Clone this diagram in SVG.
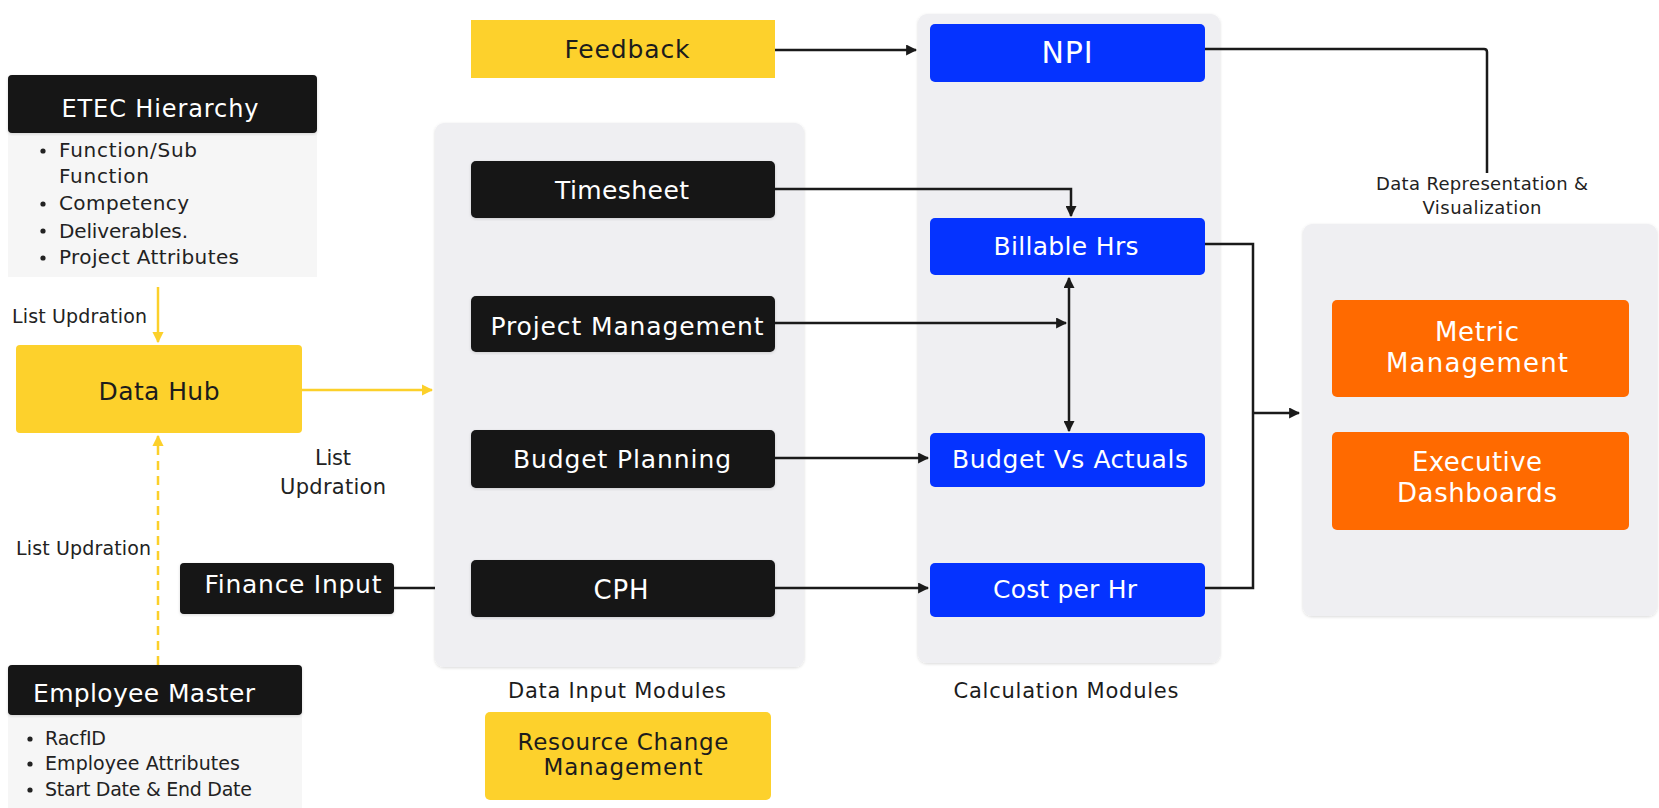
<svg xmlns="http://www.w3.org/2000/svg" width="1659" height="808" viewBox="0 0 1659 808">
  <style>
    text { font-family: "DejaVu Sans", "Liberation Sans", sans-serif; }
    .container { fill: #efeff2; }
    .dark { fill: #141414; }
    .blue { fill: #0533ff; }
    .yellow { fill: #fdd12c; }
    .orange { fill: #ff6a00; }
    .sheet { fill: #f6f6f6; }
    .w { fill: #ffffff; text-anchor: middle; }
    .k { fill: #1c1c1c; text-anchor: middle; }
    .item { fill: #222222; }
    .note { fill: #222222; }
    .line { fill: none; stroke: #1a1a1a; stroke-width: 2.5; }
    .yline { fill: none; stroke: #fcd02a; stroke-width: 2.5; }
  </style>
  <defs>
    <marker id="arrow" viewBox="0 0 10 10" refX="9" refY="5" markerWidth="4.4" markerHeight="4.4" orient="auto-start-reverse">
      <path d="M0,0 L10,5 L0,10 z" fill="#1a1a1a"/>
    </marker>
    <marker id="yarrow" viewBox="0 0 10 10" refX="9" refY="5" markerWidth="4.5" markerHeight="4.5" orient="auto-start-reverse">
      <path d="M0,0 L10,5 L0,10 z" fill="#fcd02a"/>
    </marker>
    <filter id="soft" x="-5%" y="-5%" width="110%" height="110%">
      <feDropShadow dx="0" dy="1" stdDeviation="1.5" flood-color="#000" flood-opacity="0.15"/>
    </filter>
  </defs>

  <!-- module panels -->
  <g id="panel-data-input">
    <rect class="container" x="435" y="123" width="369" height="544" rx="9" filter="url(#soft)"/>
    <text class="k" x="617" y="698" font-size="21" textLength="218">Data Input Modules</text>
  </g>
  <g id="panel-calculation">
    <rect class="container" x="918" y="14" width="302" height="649" rx="9" filter="url(#soft)"/>
    <text class="k" x="1066" y="698" font-size="21" textLength="225">Calculation Modules</text>
  </g>
  <g id="panel-visualization">
    <rect class="container" x="1303" y="224" width="354" height="392" rx="9" filter="url(#soft)"/>
  </g>

  <!-- connectors -->
  <g id="connectors">
    <path class="yline" d="M158,287 V342" marker-end="url(#yarrow)"/>
    <path class="yline" d="M302,390 H432" marker-end="url(#yarrow)"/>
    <path class="yline" d="M158,665 V436" stroke-dasharray="9,6" marker-end="url(#yarrow)"/>
    <path class="line" d="M394,588 H435"/>
    <path class="line" d="M775,50 H916" marker-end="url(#arrow)"/>
    <path class="line" d="M775,189 H1071 V216" marker-end="url(#arrow)"/>
    <path class="line" d="M775,323 H1066" marker-end="url(#arrow)"/>
    <path class="line" d="M1069,278 V431" marker-start="url(#arrow)" marker-end="url(#arrow)"/>
    <path class="line" d="M775,458 H928" marker-end="url(#arrow)"/>
    <path class="line" d="M775,588 H928" marker-end="url(#arrow)"/>
    <path class="line" d="M1205,49 H1484 Q1487,49 1487,52 V173"/>
    <path class="line" d="M1205,244 H1253 V588 H1205"/>
    <path class="line" d="M1253,413 H1299" marker-end="url(#arrow)"/>
  </g>

  <!-- free labels -->
  <g id="labels">
    <text class="note" x="12" y="323" font-size="19" textLength="135">List Updration</text>
    <text class="note" x="16" y="555" font-size="19" textLength="135">List Updration</text>
    <text class="note" x="333" y="465" font-size="21" text-anchor="middle" textLength="36">List</text>
    <text class="note" x="333" y="494" font-size="21" text-anchor="middle" textLength="106">Updration</text>
    <text class="note" x="1482" y="190" font-size="18" text-anchor="middle" textLength="212">Data Representation &amp;</text>
    <text class="note" x="1482" y="214" font-size="18" text-anchor="middle" textLength="119">Visualization</text>
  </g>

  <!-- source nodes -->
  <g id="etec-hierarchy">
    <rect class="sheet" x="8" y="128" width="309" height="149"/>
    <rect class="dark" x="8" y="75" width="309" height="58" rx="4" filter="url(#soft)"/>
    <text class="w" x="160" y="117" font-size="24" textLength="197">ETEC Hierarchy</text>
    <g class="item" font-size="20">
      <circle cx="43" cy="151" r="2.6"/><text x="59" y="157" textLength="138">Function/Sub</text>
      <text x="59" y="183" textLength="90">Function</text>
      <circle cx="43" cy="204" r="2.6"/><text x="59" y="210" textLength="130">Competency</text>
      <circle cx="43" cy="231" r="2.6"/><text x="59" y="238" textLength="129">Deliverables.</text>
      <circle cx="43" cy="258" r="2.6"/><text x="59" y="264" textLength="180">Project Attributes</text>
    </g>
  </g>

  <g id="data-hub">
    <rect class="yellow" x="16" y="345" width="286" height="88" rx="4"/>
    <text class="k" x="159" y="400" font-size="25" textLength="121">Data Hub</text>
  </g>

  <g id="finance-input">
    <rect class="dark" x="180" y="563" width="214" height="51" rx="4" filter="url(#soft)"/>
    <text class="w" x="293" y="593" font-size="25" textLength="177">Finance Input</text>
  </g>

  <g id="employee-master">
    <rect class="sheet" x="8" y="710" width="294" height="98"/>
    <rect class="dark" x="8" y="665" width="294" height="50" rx="4" filter="url(#soft)"/>
    <text class="w" x="144" y="702" font-size="25" textLength="222">Employee Master</text>
    <g class="item" font-size="19">
      <circle cx="30" cy="739" r="2.6"/><text x="45" y="745" textLength="61">RacfID</text>
      <circle cx="30" cy="764" r="2.6"/><text x="45" y="770" textLength="195">Employee Attributes</text>
      <circle cx="30" cy="790" r="2.6"/><text x="45" y="796" textLength="207">Start Date &amp; End Date</text>
    </g>
  </g>

  <g id="feedback">
    <rect class="yellow" x="471" y="20" width="304" height="58"/>
    <text class="k" x="627" y="58" font-size="25" textLength="125">Feedback</text>
  </g>

  <!-- data input modules -->
  <g id="timesheet">
    <rect class="dark" x="471" y="161" width="304" height="57" rx="5" filter="url(#soft)"/>
    <text class="w" x="622" y="199" font-size="25" textLength="134">Timesheet</text>
  </g>
  <g id="project-management">
    <rect class="dark" x="471" y="296" width="304" height="56" rx="5" filter="url(#soft)"/>
    <text class="w" x="627" y="335" font-size="25" textLength="273">Project Management</text>
  </g>
  <g id="budget-planning">
    <rect class="dark" x="471" y="430" width="304" height="58" rx="5" filter="url(#soft)"/>
    <text class="w" x="622" y="468" font-size="25" textLength="218">Budget Planning</text>
  </g>
  <g id="cph">
    <rect class="dark" x="471" y="560" width="304" height="57" rx="5" filter="url(#soft)"/>
    <text class="w" x="621" y="599" font-size="26" textLength="55">CPH</text>
  </g>

  <g id="resource-change-management">
    <rect class="yellow" x="485" y="712" width="286" height="88" rx="5"/>
    <text class="k" x="623" y="750" font-size="23" textLength="211">Resource Change</text>
    <text class="k" x="623" y="775" font-size="23" textLength="159">Management</text>
  </g>

  <!-- calculation modules -->
  <g id="npi">
    <rect class="blue" x="930" y="24" width="275" height="58" rx="5"/>
    <text class="w" x="1067" y="63" font-size="30" textLength="51">NPI</text>
  </g>
  <g id="billable-hrs">
    <rect class="blue" x="930" y="218" width="275" height="57" rx="5"/>
    <text class="w" x="1066" y="255" font-size="25" textLength="145">Billable Hrs</text>
  </g>
  <g id="budget-vs-actuals">
    <rect class="blue" x="930" y="433" width="275" height="54" rx="5"/>
    <text class="w" x="1070" y="468" font-size="25" textLength="236">Budget Vs Actuals</text>
  </g>
  <g id="cost-per-hr">
    <rect class="blue" x="930" y="563" width="275" height="54" rx="5"/>
    <text class="w" x="1065" y="598" font-size="25" textLength="144">Cost per Hr</text>
  </g>

  <!-- visualization -->
  <g id="metric-management">
    <rect class="orange" x="1332" y="300" width="297" height="97" rx="5"/>
    <text class="w" x="1477" y="341" font-size="26" textLength="84">Metric</text>
    <text class="w" x="1477" y="372" font-size="26" textLength="182">Management</text>
  </g>
  <g id="executive-dashboards">
    <rect class="orange" x="1332" y="432" width="297" height="98" rx="5"/>
    <text class="w" x="1477" y="471" font-size="26" textLength="130">Executive</text>
    <text class="w" x="1477" y="502" font-size="26" textLength="160">Dashboards</text>
  </g>
</svg>
